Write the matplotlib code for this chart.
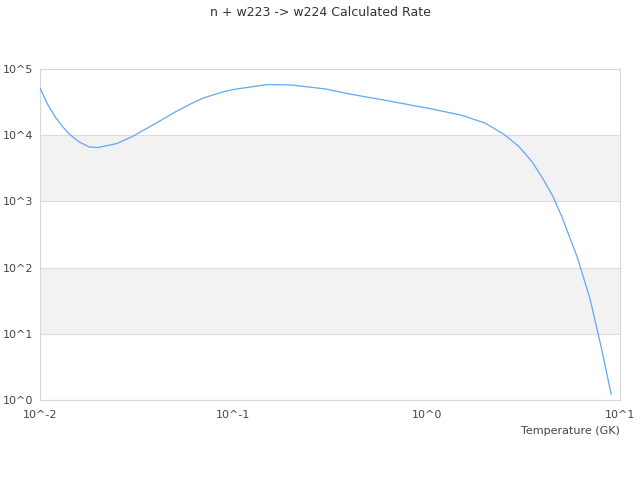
import matplotlib
matplotlib.use("Agg")
import matplotlib.pyplot as plt

# temperature grid (GK) and rate
temperature = [0.01, 0.011, 0.012, 0.013, 0.014, 0.015, 0.016, 0.018, 0.02, 0.025,
               0.03, 0.04, 0.05, 0.06, 0.07, 0.08, 0.09, 0.1, 0.15, 0.2,
               0.3, 0.4, 0.5, 0.6, 0.7, 0.8, 0.9, 1.0, 1.5, 2.0,
               2.5, 3.0, 3.5, 4.0, 4.5, 5.0, 6.0, 7.0, 8.0, 9.0]
rate = [51600, 28600, 18800, 13800, 10800, 9080, 7890, 6630, 6520, 7490,
        9550, 15300, 22400, 29600, 36500, 41200, 45700, 49000, 58300, 57300,
        49900, 41900, 37300, 34000, 31200, 29100, 27200, 25800, 20200, 15300,
        10400, 6740, 4010, 2180, 1190, 588, 146, 33.6, 6.2, 1.23]

x_ticks = [0.01, 0.1, 1, 10]
x_labels = ["10^-2", "10^-1", "10^0", "10^1"]
y_ticks = [1, 10, 100, 1000, 10000, 100000]
y_labels = ["10^0", "10^1", "10^2", "10^3", "10^4", "10^5"]

fig = plt.figure(figsize=(6.4, 4.8), dpi=100)
ax = fig.add_axes([40 / 640, 1 - 400 / 480, 580 / 640, 331 / 480])

# alternating bands
for lo, hi in [(1000, 10000), (10, 100)]:
    ax.axhspan(lo, hi, color="#f2f2f2", zorder=0, lw=0)
for y in y_ticks:
    ax.axhline(y, color="#dddddd", lw=0.8, zorder=1)

ax.plot(temperature, rate, color="#62a8f2", lw=0.9, zorder=3)

ax.set_xscale("log")
ax.set_yscale("log")
ax.set_xlim(0.01, 10)
ax.set_ylim(1, 100000)
ax.minorticks_off()
ax.set_xticks(x_ticks)
ax.set_xticklabels(x_labels)
ax.set_yticks(y_ticks)
ax.set_yticklabels(y_labels)
ax.tick_params(length=0, labelsize=8, colors="#444444", pad=5)
ax.tick_params(axis="x", pad=7)

for s in ax.spines.values():
    s.set_color("#d6d6d6")
    s.set_linewidth(0.8)

ax.text(1.0, -0.094, "Temperature (GK)", transform=ax.transAxes,
        ha="right", va="center", fontsize=8, color="#444444")
fig.text(0.5, 1 - 12 / 480, "n + w223 -> w224 Calculated Rate",
         ha="center", va="center", fontsize=9, color="#333333")

fig.savefig("out.png", dpi=100)
